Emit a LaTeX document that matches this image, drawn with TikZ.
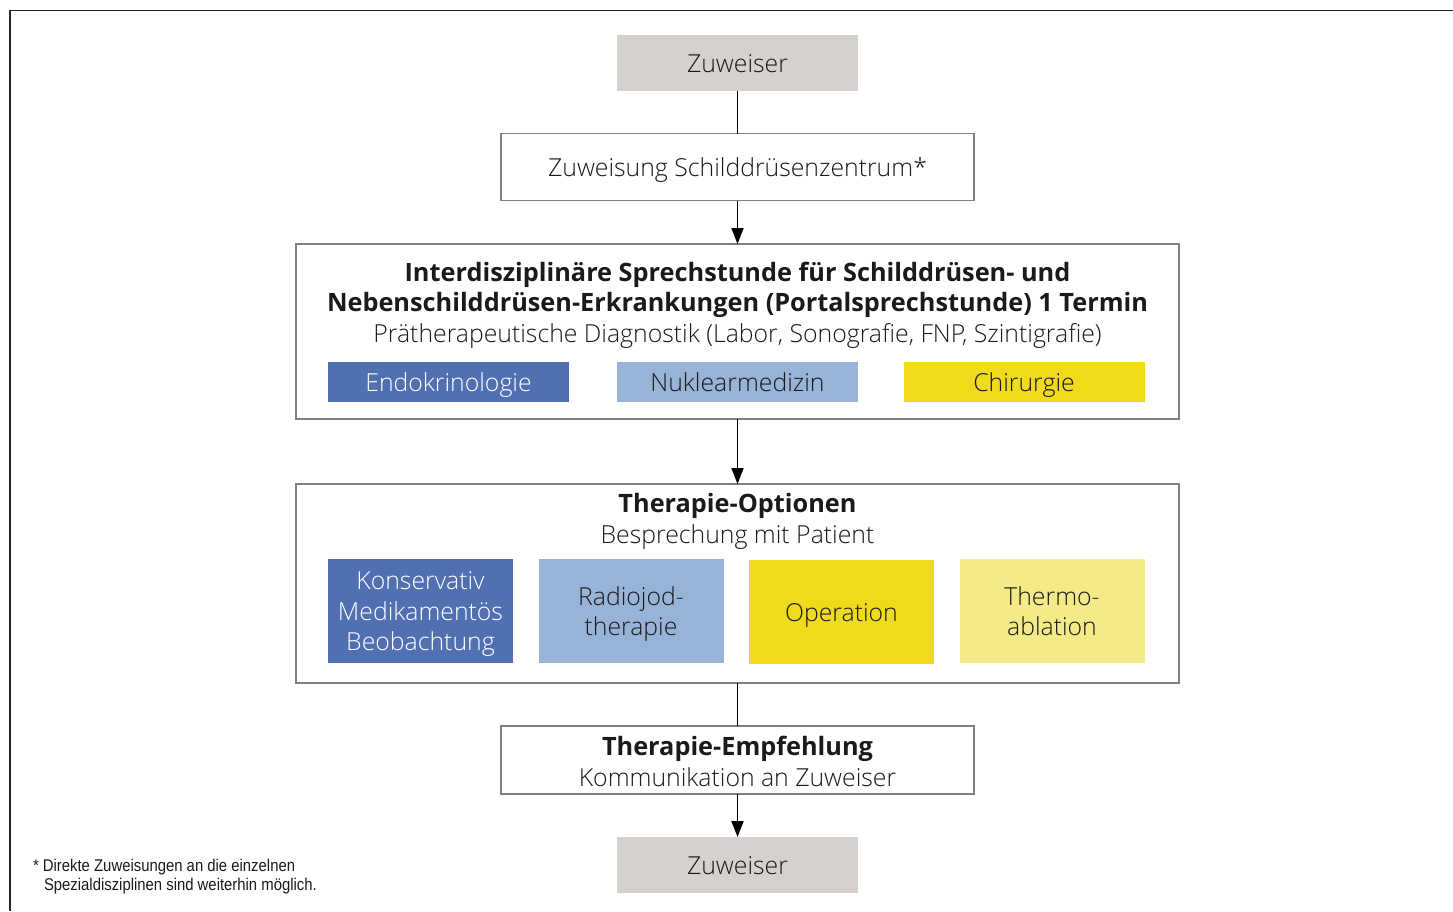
\documentclass[tikz,border=0pt]{standalone}
\usepackage{fontspec}
\setmainfont{Open Sans Light}[BoldFont={Open Sans Bold}]
\newfontfamily\fnfont{Liberation Sans}[FakeStretch=0.875]
\usetikzlibrary{arrows.meta}
\definecolor{greybox}{HTML}{D6D1CE}
\definecolor{darkblue}{HTML}{5170B1}
\definecolor{lightblue}{HTML}{97B3D7}
\definecolor{yel}{HTML}{EFDA1C}
\definecolor{lightyel}{HTML}{F4EA88}
\definecolor{border}{HTML}{7F7F7F}
\definecolor{txt}{HTML}{1A1A1A}
\newcommand{\firstline}{\rule{0pt}{18pt}}
\begin{document}
\begin{tikzpicture}[x=1pt,y=-1pt,
  every node/.style={inner sep=0pt, outer sep=0pt, text=txt},
  oneline/.style={text height=18pt, text depth=0pt},
  greyrect/.style={fill=greybox, draw=none},
  framebox/.style={draw=border, line width=1.1pt, fill=white},
  bigtxt/.style={font=\fontsize{24.8}{30.5}\selectfont},
  boldtxt/.style={font=\fontsize{25.3}{30}\selectfont\bfseries},
  conn/.style={line width=1.9pt, draw=black},
  arr/.style={conn, -{Triangle[length=16pt,width=12pt]}}]
\useasboundingbox (0,0) rectangle (1453,911);
% page frame
\draw[line width=1.6pt, draw=black!85] (10,911) -- (10,10.5) -- (1453,10.5);

% boxes
\node[greyrect, minimum width=241pt, minimum height=56pt, bigtxt, oneline] (z1) at (737.5,63) {Zuweiser};
\node[framebox, minimum width=473pt, minimum height=67pt, bigtxt, oneline] (zs) at (737.5,167) {Zuweisung Schilddrüsenzentrum*};

\node[framebox, minimum width=883pt, minimum height=175pt] (ids) at (737.5,331.5) {};
\node[boldtxt, oneline] (t1) at (737.5,272) {Interdisziplinäre Sprechstunde für Schilddrüsen- und};
\node[boldtxt, oneline] (t2) at (737.5,302) {Nebenschilddrüsen-Erkrankungen (Portalsprechstunde) 1 Termin};
\node[bigtxt, oneline] (t3) at (737.5,333) {Prätherapeutische Diagnostik (Labor, Sonografie, FNP, Szintigrafie)};
\node[fill=darkblue, minimum width=241pt, minimum height=40pt, bigtxt, oneline, text=white] (endo) at (448.5,382) {Endokrinologie};
\node[fill=lightblue, minimum width=241pt, minimum height=40pt, bigtxt, oneline] (nuk) at (737.5,382) {Nuklearmedizin};
\node[fill=yel, minimum width=241pt, minimum height=40pt, bigtxt, oneline] (chir) at (1024,382) {Chirurgie};

\node[framebox, minimum width=883pt, minimum height=199pt] (opt) at (737.5,583.5) {};
\node[boldtxt, oneline] (o1) at (737.5,503) {Therapie-Optionen};
\node[bigtxt, oneline] (o2) at (737.5,534) {Besprechung mit Patient};
\node[fill=darkblue, minimum width=185pt, minimum height=104pt, bigtxt, text=white, align=center] (kons) at (420.5,611) {\firstline Konservativ\\Medikamentös\\\smash{Beobachtung}};
\node[fill=lightblue, minimum width=185pt, minimum height=104pt, bigtxt, align=center] (radio) at (631,611) {\firstline Radiojod-\\\smash{therapie}};
\node[fill=yel, minimum width=185pt, minimum height=104pt, bigtxt, oneline] (op) at (841.5,612) {Operation};
\node[fill=lightyel, minimum width=185pt, minimum height=104pt, bigtxt, align=center] (thermo) at (1052,611) {\firstline Thermo-\\\smash{ablation}};

\node[framebox, minimum width=473pt, minimum height=68pt] (emp) at (737.5,760) {};
\node[boldtxt, oneline] (e1) at (737.5,746) {Therapie-Empfehlung};
\node[bigtxt, oneline] (e2) at (737.5,777) {Kommunikation an Zuweiser};

\node[greyrect, minimum width=241pt, minimum height=56pt, bigtxt, oneline] (z2) at (737.5,865) {Zuweiser};

% connectors
\draw[conn] (z1.south) -- (zs.north);
\draw[arr] (zs.south) -- (ids.north);
\draw[arr] (ids.south) -- (opt.north);
\draw[conn] (opt.south) -- (emp.north);
\draw[arr] (emp.south) -- (z2.north);

% footnote
\node[anchor=base west, font=\fnfont\fontsize{17}{19.3}\selectfont] (fn1) at (33,871) {* Direkte Zuweisungen an die einzelnen};
\node[anchor=base west, font=\fnfont\fontsize{17}{19.3}\selectfont] (fn2) at (44,890) {Spezialdisziplinen sind weiterhin möglich.};
\end{tikzpicture}
\end{document}
